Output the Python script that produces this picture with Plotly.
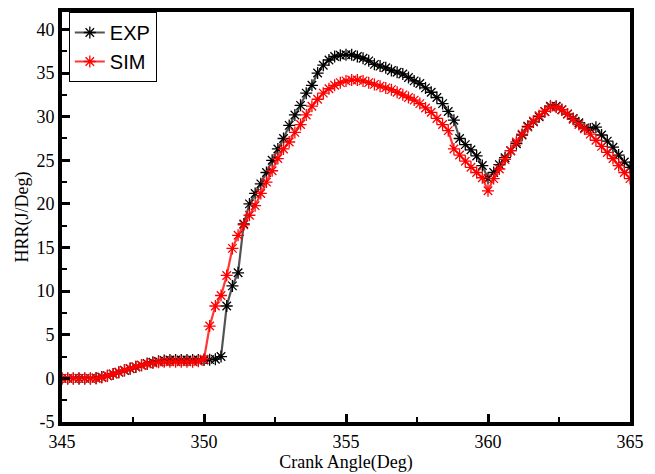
import numpy as np
import plotly.graph_objects as go

crank_angle = [round(345 + 0.2 * i, 1) for i in range(101)]

exp_hrr = [
    0, 0, 0, 0, 0, 0, 0.05, 0.15, 0.3, 0.5,
    0.7, 0.9, 1.1, 1.3, 1.5, 1.7, 1.85, 1.95, 2.05, 2.1,
    2.1, 2.1, 2.1, 2.1, 2.1, 2.1, 2.15, 2.2, 2.5, 8.3,
    10.6, 12.1, 17.7, 20.0, 21.2, 22.3, 23.6, 25.0, 26.3, 27.5,
    29.0, 30.2, 31.3, 32.7, 33.6, 35.0, 35.9, 36.5, 36.9, 37.05,
    37.1, 37.1, 36.9, 36.7, 36.4, 36.0, 35.8, 35.6, 35.3, 35.1,
    34.9, 34.5, 34.1, 33.8, 33.3, 32.8, 32.2, 31.5, 30.6, 29.6,
    27.5, 26.8, 26.2, 25.5, 24.4, 22.9, 23.6, 24.5, 25.3, 26.1,
    26.9, 27.9, 28.9, 29.4, 30.0, 30.6, 31.2, 31.2, 30.8, 30.3,
    29.8, 29.3, 28.7, 28.6, 28.8, 27.9, 27.2, 26.5, 25.6, 24.8,
    24.2,
]

sim_hrr = [
    0, 0, 0, 0, 0, 0, 0, 0.1, 0.3, 0.5,
    0.7, 0.95, 1.15, 1.35, 1.5, 1.65, 1.75, 1.85, 1.9, 1.9,
    1.9, 1.9, 1.9, 1.9, 1.95, 2.2, 6.0, 8.3, 9.5, 11.8,
    14.9, 16.4, 17.6, 18.7, 19.8, 21.2, 22.5, 23.8, 25.2, 26.3,
    27.1, 28.2, 29.1, 30.2, 31.2, 32.0, 32.7, 33.2, 33.6, 33.9,
    34.1, 34.2, 34.2, 34.1, 33.9, 33.7, 33.5, 33.3, 33.1, 32.8,
    32.5, 32.2, 31.9, 31.5, 31.0, 30.5, 29.8, 29.1, 28.4, 26.3,
    25.6, 24.9, 24.2, 23.6, 23.0, 21.5, 22.9, 24.0, 25.1, 26.1,
    27.1, 28.0, 28.8, 29.5, 30.1, 30.6, 31.1, 31.1, 30.8, 30.3,
    29.7, 29.1, 28.6, 28.0, 27.3, 26.6, 25.9, 25.2, 24.4, 23.6,
    22.9,
]

x_ticks = [345, 350, 355, 360, 365]
y_ticks = [-5, 0, 5, 10, 15, 20, 25, 30, 35, 40]
y_tick_labels = ["-5", "0", "5", "10", "15", "20", "25", "30", "35", "40"]

fig = go.Figure()
fig.add_trace(go.Scatter(
    x=crank_angle, y=exp_hrr, name="EXP", mode="lines+markers",
    line=dict(color="rgba(40,40,40,0.8)", width=2.2),
    marker=dict(symbol="asterisk-open", size=10, color="black",
                line=dict(color="black", width=1.3)),
))
fig.add_trace(go.Scatter(
    x=crank_angle, y=sim_hrr, name="SIM", mode="lines+markers",
    line=dict(color="rgba(255,20,20,0.85)", width=2.2),
    marker=dict(symbol="asterisk-open", size=10, color="red",
                line=dict(color="red", width=1.3)),
))

axis_font = dict(family="Liberation Serif, Times New Roman, serif", size=18, color="black")

fig.update_layout(
    width=655, height=474,
    margin=dict(l=62, r=25, t=12, b=52, autoexpand=False),
    plot_bgcolor="white", paper_bgcolor="white",
    showlegend=True,
    legend=dict(
        x=0.012, y=1, xanchor="left", yanchor="top",
        bordercolor="black", borderwidth=1, bgcolor="white",
        font=dict(family="Liberation Sans, Arial, sans-serif", size=20, color="black"),
        tracegroupgap=0, itemwidth=30,
    ),
    xaxis=dict(
        range=[345, 365], tickvals=x_ticks, ticks="inside", ticklen=8, tickwidth=3,
        tickcolor="black", showline=True, linecolor="black", linewidth=4, mirror=True,
        showgrid=False, zeroline=False, tickfont=axis_font, automargin=False,
        minor=dict(dtick=2.5, ticks="inside", ticklen=5, tickwidth=2, tickcolor="black", showgrid=False),
        title=dict(text="Crank Angle(Deg)", font=axis_font, standoff=4),
    ),
    yaxis=dict(
        range=[-5, 42], tickvals=y_ticks, ticktext=y_tick_labels, ticks="inside", ticklen=8, tickwidth=3,
        tickcolor="black", showline=True, linecolor="black", linewidth=4, mirror=True,
        showgrid=False, zeroline=False, tickfont=axis_font, automargin=False,
        minor=dict(dtick=2.5, ticks="inside", ticklen=5, tickwidth=2, tickcolor="black", showgrid=False),
        title=dict(text="HRR(J/Deg)", font=axis_font, standoff=4),
    ),
)

fig.write_html("out.html")
